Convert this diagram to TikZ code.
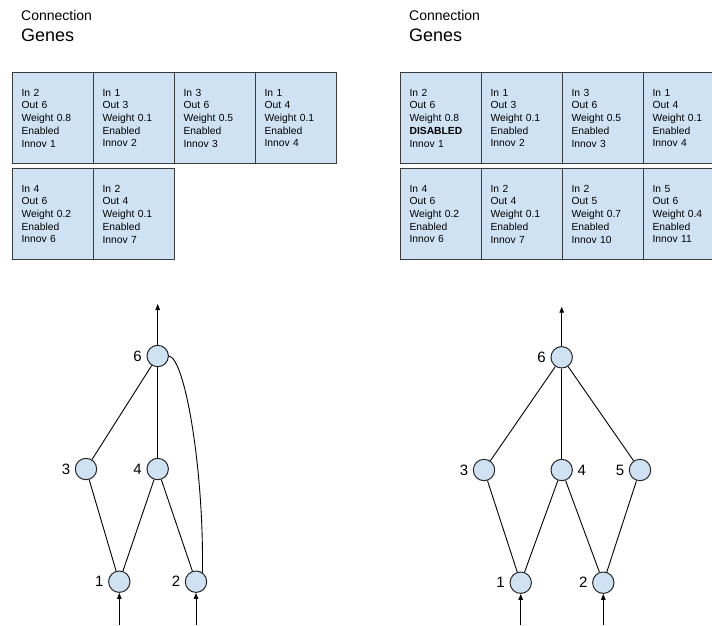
\documentclass[tikz,border=0pt]{standalone}
\usepackage{fontspec}
\setmainfont{Liberation Sans}
\usetikzlibrary{arrows.meta}
\definecolor{genefill}{HTML}{CFE2F3}
\definecolor{rimgray}{HTML}{3C3C3C}
\begin{document}
\begin{tikzpicture}[x=1pt,y=-1pt,
  genebox/.style={draw=rimgray, line width=1.2pt, fill=genefill,
    anchor=north west, minimum height=91pt, text width=63pt,
    inner xsep=9pt, inner ysep=0pt, align=left,
    font=\fontsize{10.3}{12.7}\selectfont},
  hdrsmall/.style={anchor=base west, inner sep=0pt, font=\fontsize{14}{16}\selectfont},
  hdrbig/.style={anchor=base west, inner sep=0pt, font=\fontsize{18}{20}\selectfont},
  gnode/.style={circle, draw=black!85, line width=1pt, fill=genefill,
    minimum size=21.4pt, inner sep=0pt},
  every label/.style={font=\fontsize{15}{18}\selectfont, inner sep=0pt},
  label distance=4.5pt,
  wire/.style={draw=black, line width=0.9pt},
  flow/.style={wire, -{Triangle[length=6pt,width=4.5pt]}}]

\useasboundingbox (0,0) rectangle (712,625);
\clip (0,0) rectangle (712,625);

% ---------- parent genome: connection genes ----------
\node[hdrsmall] (hdrLa) at (21,20) {Connection};
\node[hdrbig]   (hdrLb) at (21,41) {Genes};

\node[genebox] (gL1) at (12,72)  {In 2\\Out 6\\Weight 0.8\\Enabled\\Innov 1};
\node[genebox] (gL2) at (93,72)  {In 1\\Out 3\\Weight 0.1\\Enabled\\Innov 2};
\node[genebox] (gL3) at (174,72) {In 3\\Out 6\\Weight 0.5\\Enabled\\Innov 3};
\node[genebox] (gL4) at (255,72) {In 1\\Out 4\\Weight 0.1\\Enabled\\Innov 4};
\node[genebox] (gL6) at (12,168) {In 4\\Out 6\\Weight 0.2\\Enabled\\Innov 6};
\node[genebox] (gL7) at (93,168) {In 2\\Out 4\\Weight 0.1\\Enabled\\Innov 7};

% ---------- mutated genome: connection genes ----------
\node[hdrsmall] (hdrRa) at (409,20) {Connection};
\node[hdrbig]   (hdrRb) at (409,41) {Genes};

\node[genebox] (gR1)  at (400,72)  {In 2\\Out 6\\Weight 0.8\\\textbf{DISABLED}\\Innov 1};
\node[genebox] (gR2)  at (481,72)  {In 1\\Out 3\\Weight 0.1\\Enabled\\Innov 2};
\node[genebox] (gR3)  at (562,72)  {In 3\\Out 6\\Weight 0.5\\Enabled\\Innov 3};
\node[genebox] (gR4)  at (643,72)  {In 1\\Out 4\\Weight 0.1\\Enabled\\Innov 4};
\node[genebox] (gR6)  at (400,168) {In 4\\Out 6\\Weight 0.2\\Enabled\\Innov 6};
\node[genebox] (gR7)  at (481,168) {In 2\\Out 4\\Weight 0.1\\Enabled\\Innov 7};
\node[genebox] (gR10) at (562,168) {In 2\\Out 5\\Weight 0.7\\Enabled\\Innov 10};
\node[genebox] (gR11) at (643,168) {In 5\\Out 6\\Weight 0.4\\Enabled\\Innov 11};

% ---------- parent network ----------
\node[gnode, label=left:6] (L6) at (157.7,356) {};
\node[gnode, label=left:3] (L3) at (86,469) {};
\node[gnode, label=left:4] (L4) at (157.7,469) {};
\node[gnode, label=left:1] (L1) at (119.3,581.7) {};
\node[gnode, label=left:2] (L2) at (196,581.7) {};
\coordinate (Lout) at (157.7,304);
\coordinate (Lin1) at (119.3,625);
\coordinate (Lin2) at (196,625);

\draw[wire] (L3) -- (L6);
\draw[wire] (L4) -- (L6);
\draw[wire] (L1) -- (L3);
\draw[wire] (L1) -- (L4);
\draw[wire] (L2) -- (L4);
\draw[wire] (L6.east) .. controls (185,358) and (204,470) .. (L2.55);
\draw[flow] (L6) -- (Lout);
\draw[flow] (Lin1) -- (L1);
\draw[flow] (Lin2) -- (L2);

% ---------- mutated network ----------
\node[gnode, label=left:6]  (R6) at (561.7,357.3) {};
\node[gnode, label=left:3]  (R3) at (484,470) {};
\node[gnode, label=right:4] (R4) at (561.7,470) {};
\node[gnode, label=left:5]  (R5) at (640,470) {};
\node[gnode, label=left:1]  (R1) at (520.7,582.7) {};
\node[gnode, label=left:2]  (R2) at (603.3,582.7) {};
\coordinate (Rout) at (561.7,306.7);
\coordinate (Rin1) at (520.7,625);
\coordinate (Rin2) at (603.3,625);

\draw[wire] (R3) -- (R6);
\draw[wire] (R4) -- (R6);
\draw[wire] (R5) -- (R6);
\draw[wire] (R1) -- (R3);
\draw[wire] (R1) -- (R4);
\draw[wire] (R2) -- (R4);
\draw[wire] (R2) -- (R5);
\draw[flow] (R6) -- (Rout);
\draw[flow] (Rin1) -- (R1);
\draw[flow] (Rin2) -- (R2);
\end{tikzpicture}
\end{document}
